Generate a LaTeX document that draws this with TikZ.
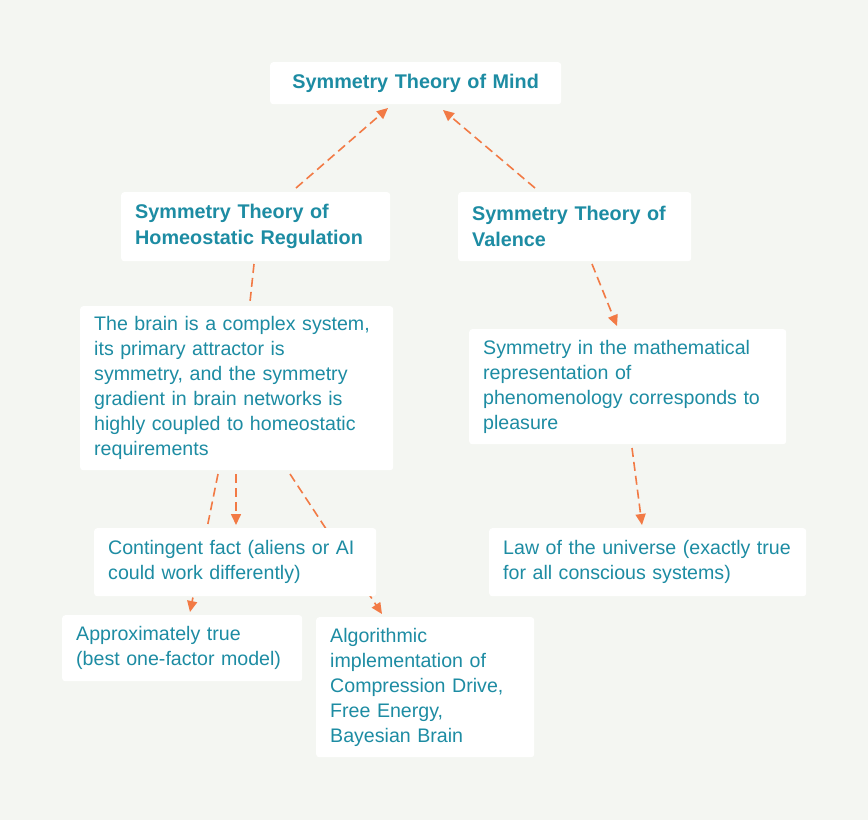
\documentclass[tikz,border=0pt]{standalone}
\usepackage{fontspec}
\setmainfont{Liberation Sans}
\usetikzlibrary{arrows.meta,backgrounds}
\definecolor{bg}{HTML}{F4F6F2}
\definecolor{tx}{HTML}{1D8CA3}
\definecolor{ar}{HTML}{F27A45}
\begin{document}
\begin{tikzpicture}[x=1pt,y=-1pt,
  box/.style={fill=white,rounded corners=3pt,anchor=north west,align=left,inner xsep=14pt,inner ysep=0pt,text=tx,font=\fontsize{19.6}{25}\selectfont},
  bbox/.style={box,font=\fontsize{19.8}{26}\selectfont\bfseries},
  con/.style={draw=ar,line width=1.6pt,dash pattern=on 9pt off 5pt},
  arr/.style={con,-{Triangle[length=11pt,width=10pt]}}]
\fill[bg] (0,0) rectangle (868,820);
\useasboundingbox (0,0) rectangle (868,820);
\coordinate (a1) at (296,188); \coordinate (a1e) at (388,108);
\coordinate (a2) at (535,188); \coordinate (a2e) at (443,110);
\coordinate (b1) at (254,264); \coordinate (b1e) at (250,302);
\coordinate (c1) at (592,264); \coordinate (c1e) at (617,326);
\coordinate (d1) at (632,448); \coordinate (d1e) at (642,525);
\coordinate (e1) at (236,474); \coordinate (e1e) at (236,525);
\coordinate (f1) at (218,474); \coordinate (f1e) at (190,612);
\coordinate (g1) at (290,474); \coordinate (g1e) at (382,614);
\draw[arr] (a1) -- (a1e);
\draw[arr] (a2) -- (a2e);
\draw[con] (b1) -- (b1e);
\draw[arr] (c1) -- (c1e);
\draw[arr] (d1) -- (d1e);
\draw[arr] (e1) -- (e1e);
\draw[arr] (f1) -- (f1e);
\draw[arr] (g1) -- (g1e);
\node[bbox,text width=263pt,minimum height=42pt,align=center] (mind) at (270,62) {Symmetry Theory of Mind};
\node[bbox,text width=241pt,minimum height=69pt] (home) at (121,192) {Symmetry Theory of\\Homeostatic Regulation};
\node[bbox,text width=205pt,minimum height=69pt] (val) at (458,192) {Symmetry Theory of\\Valence};
\node[box,text width=285pt,minimum height=164pt] (brain) at (80,306) {The brain is a complex system,\\its primary attractor is\\symmetry, and the symmetry\\gradient in brain networks is\\highly coupled to homeostatic\\requirements};
\node[box,text width=289pt,minimum height=115pt] (math) at (469,329) {Symmetry in the mathematical\\representation of\\phenomenology corresponds to\\pleasure};
\node[box,text width=254pt,minimum height=68pt] (cont) at (94,528) {Contingent fact (aliens or AI\\could work differently)};
\node[box,text width=289pt,minimum height=68pt] (law) at (489,528) {Law of the universe (exactly true\\for all conscious systems)};
\node[box,text width=212pt,minimum height=66pt] (appr) at (62,615) {Approximately true\\(best one-factor model)};
\node[box,text width=190pt,minimum height=140pt] (algo) at (316,617) {Algorithmic\\implementation of\\Compression Drive,\\Free Energy,\\Bayesian Brain};
\end{tikzpicture}
\end{document}
